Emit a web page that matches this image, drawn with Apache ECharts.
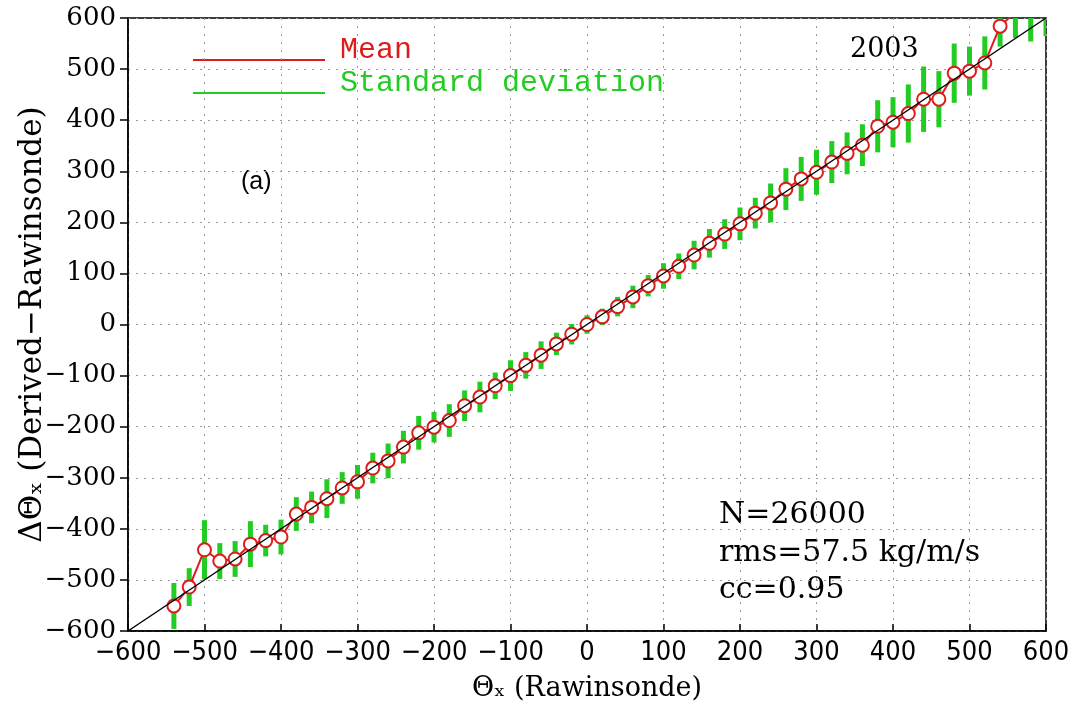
<!DOCTYPE html>
<html>
<head>
<meta charset="utf-8">
<script src="https://cdn.jsdelivr.net/npm/echarts@6/dist/echarts.min.js"></script>
<style>
  html, body { margin: 0; padding: 0; background: #fff; }
  #myCanvas { width: 1076px; height: 707px; }
</style>
</head>
<body>
<div id="myCanvas"></div>
<script>
// bin centres (Rawinsonde)
var binX = [-540, -520, -500, -480, -460, -440, -420, -400, -380, -360,
            -340, -320, -300, -280, -260, -240, -220, -200, -180, -160,
            -140, -120, -100, -80, -60, -40, -20, 0, 20, 40,
            60, 80, 100, 120, 140, 160, 180, 200, 220, 240,
            260, 280, 300, 320, 340, 360, 380, 400, 420, 440,
            460, 480, 500, 520, 540, 560, 580, 600];
// mean of derived values per bin
var meanY = [-551, -514, -441, -463, -459, -430, -423, -416, -371, -358,
             -341, -320, -308, -281, -267, -240, -212, -201, -188, -159,
             -142, -120, -100, -80, -60, -38, -19, 0, 15, 35,
             54, 76, 95, 114, 136, 159, 177, 197, 218, 238,
             265, 285, 298, 318, 335, 351, 388, 396, 413, 441,
             441, 492, 496, 512, 584, 612, 616, 620];
// standard deviation per bin
var stdY = [45, 37, 58, 35, 35, 45, 31, 34, 33, 31,
            38, 31, 33, 30, 34, 32, 33, 30, 32, 30,
            30, 26, 30, 26, 27, 22, 20, 18, 16, 19,
            22, 21, 25, 25, 28, 28, 29, 32, 30, 38,
            41, 43, 44, 41, 41, 41, 51, 49, 57, 64,
            55, 58, 48, 52, 40, 51, 62, 56];
var oneToOne = [[-600, -600], [600, 600]];

var meanData = binX.map(function (x, i) { return [x, meanY[i]]; });
var stdData = binX.map(function (x, i) { return [x, meanY[i] - stdY[i], meanY[i] + stdY[i]]; });

var RED = '#dd1c1c', GREEN = '#22cc22';
var serif = 'DejaVu Serif';
var mono = 'Liberation Mono';
var minus = function (v) { return String(v).replace('-', '\u2212'); };

var myChart = echarts.init(document.getElementById('myCanvas'));
var option = {
    animation: false,
    backgroundColor: '#fff',
    grid: {
        left: 128, right: 30, top: 18, bottom: 76,
        outerBoundsMode: 'none',
        show: true, borderColor: '#000', borderWidth: 1.5
    },
    xAxis: {
        type: 'value', min: -600, max: 600, interval: 100,
        name: '\u0398\u2093 (Rawinsonde)', nameLocation: 'middle', nameGap: 44,
        nameTextStyle: { fontFamily: serif, fontSize: 27, color: '#000' },
        axisLine: { onZero: false, lineStyle: { color: '#000', width: 1.5 } },
        axisTick: { inside: true, length: 7, lineStyle: { color: '#000', width: 1.5 } },
        axisLabel: {
            margin: 8, color: '#000', fontSize: 27,
            fontFamily: "'Liberation Sans Narrow', 'DejaVu Sans Condensed', sans-serif",
            formatter: minus
        },
        splitLine: { lineStyle: { color: '#9a9a9a', type: [2, 6], width: 1 } }
    },
    yAxis: {
        type: 'value', min: -600, max: 600, interval: 100,
        name: '\u0394\u0398\u2093 (Derived\u2212Rawinsonde)', nameLocation: 'middle', nameGap: 80,
        nameMoveOverlap: false,
        nameTextStyle: { fontFamily: serif, fontSize: 31, color: '#000' },
        axisLine: { onZero: false, lineStyle: { color: '#000', width: 1.5 } },
        axisTick: { length: 8, lineStyle: { color: '#000', width: 1.5 } },
        axisLabel: { margin: 12, color: '#000', fontSize: 26, fontFamily: serif, formatter: minus },
        splitLine: { lineStyle: { color: '#9a9a9a', type: [2, 6], width: 1 } }
    },
    series: [
        {
            name: 'Standard deviation',
            type: 'custom',
            z: 2,
            data: stdData,
            renderItem: function (params, api) {
                var lo = api.coord([api.value(0), api.value(1)]);
                var hi = api.coord([api.value(0), api.value(2)]);
                var w = 5;
                var shape = echarts.graphic.clipRectByRect(
                    { x: lo[0] - w / 2, y: hi[1], width: w, height: lo[1] - hi[1] },
                    params.coordSys
                );
                return shape && { type: 'rect', shape: shape, style: { fill: GREEN } };
            }
        },
        {
            name: 'Mean',
            type: 'line',
            z: 3,
            data: meanData,
            symbol: 'circle',
            symbolSize: 13,
            lineStyle: { color: RED, width: 2 },
            itemStyle: { color: '#fff', borderColor: RED, borderWidth: 2 }
        },
        {
            name: '1:1',
            type: 'line',
            z: 4,
            data: oneToOne,
            symbol: 'none',
            lineStyle: { color: '#000', width: 1.5 }
        }
    ],
    graphic: [
        { type: 'line', shape: { x1: 193, y1: 60, x2: 325, y2: 60 }, style: { stroke: RED, lineWidth: 2 } },
        { type: 'line', shape: { x1: 193, y1: 93, x2: 325, y2: 93 }, style: { stroke: GREEN, lineWidth: 2 } },
        { type: 'text', left: 340, top: 35, style: { text: 'Mean', fill: RED, font: '30px ' + mono } },
        { type: 'text', left: 340, top: 68, style: { text: 'Standard deviation', fill: GREEN, font: '30px ' + mono } },
        { type: 'text', left: 241, top: 170, style: { text: '(a)', fill: '#000', font: '25px "Liberation Sans"' } },
        { type: 'text', left: 850, top: 36, style: { text: '2003', fill: '#000', font: '27px ' + serif } },
        { type: 'text', left: 719, top: 500, style: { text: 'N=26000', fill: '#000', font: '30px ' + serif } },
        { type: 'text', left: 719, top: 538, style: { text: 'rms=57.5 kg/m/s', fill: '#000', font: '30px ' + serif } },
        { type: 'text', left: 719, top: 575, style: { text: 'cc=0.95', fill: '#000', font: '30px ' + serif } }
    ]
};
myChart.setOption(option);
</script>
</body>
</html>
